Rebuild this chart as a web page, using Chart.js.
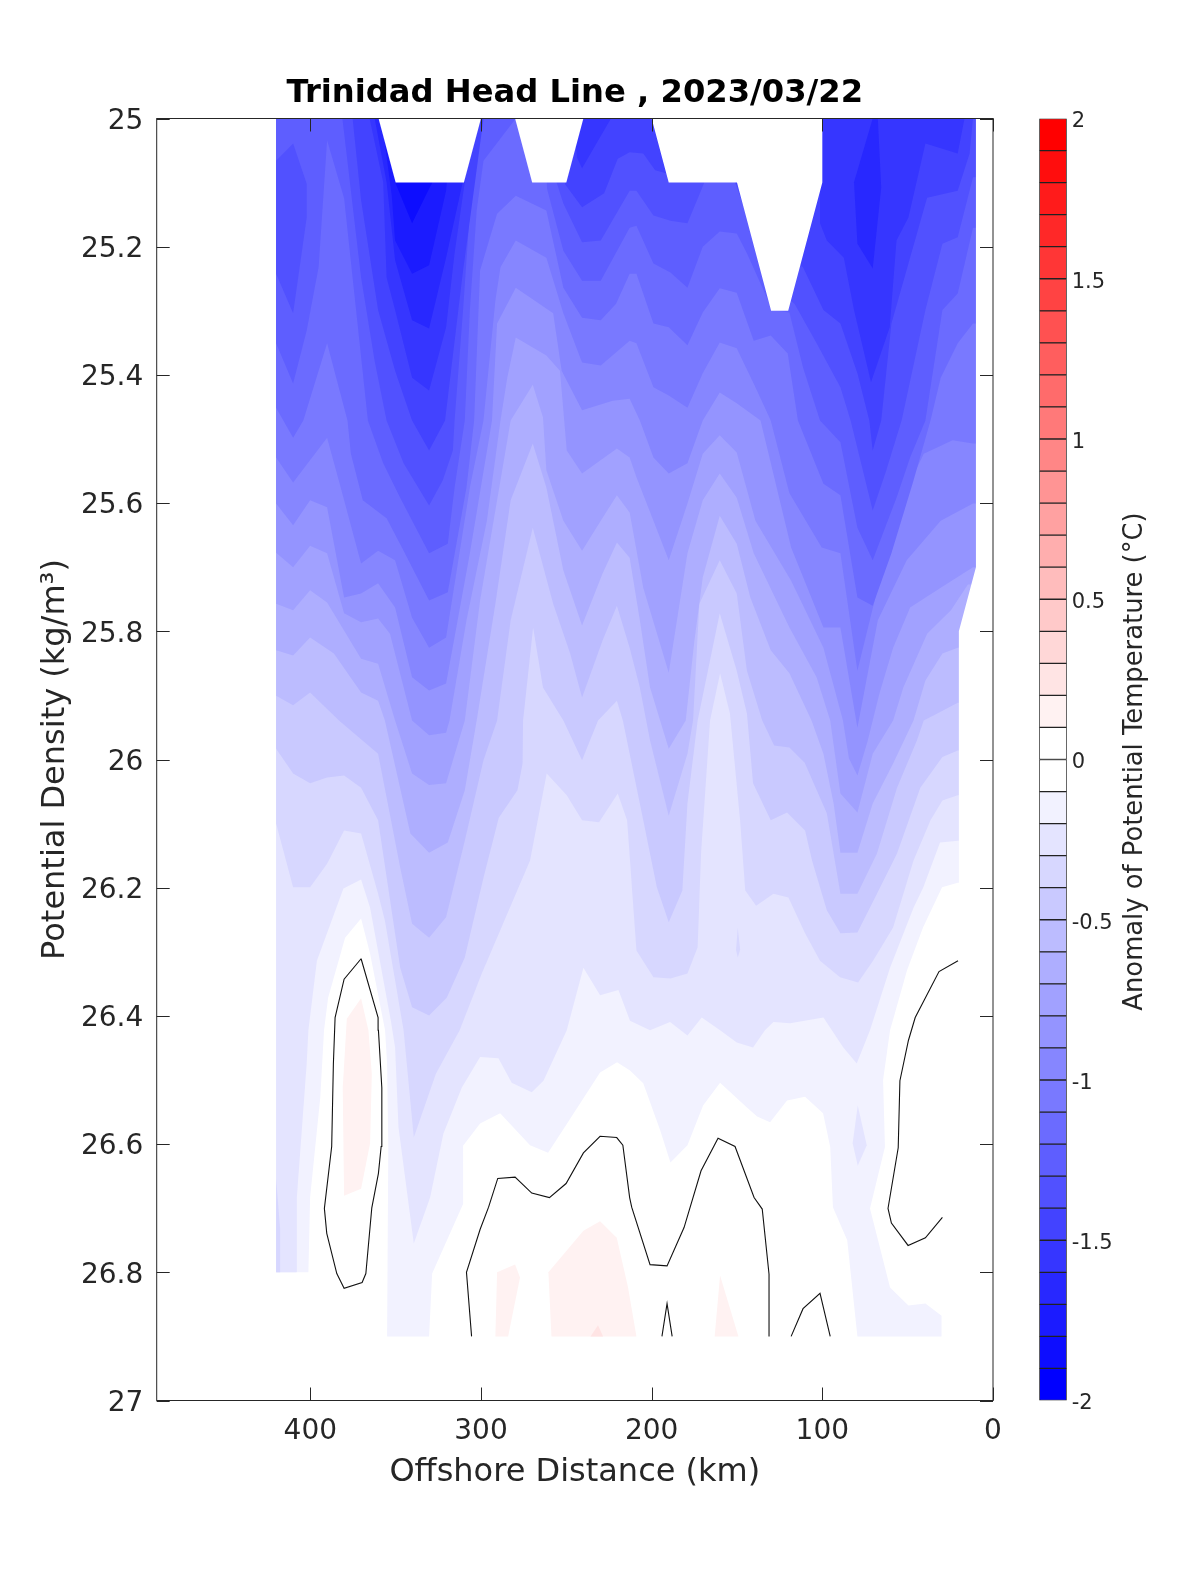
<!DOCTYPE html>
<html><head><meta charset="utf-8">
<style>html,body{margin:0;padding:0;background:#fff}#wrap{position:relative;width:1200px;height:1575px}canvas{position:absolute;left:0;top:0}</style>
<script src="https://cdn.jsdelivr.net/npm/chart.js@4/dist/chart.umd.min.js"></script>
</head><body><div id="wrap"><canvas id="main" width="1200" height="1575"></canvas><canvas id="bar" width="1200" height="1575"></canvas></div>
<script>
const titleText = 'Trinidad Head Line , 2023/03/22';
const xLabel = 'Offshore Distance (km)';
const yLabel = 'Potential Density (kg/m³)';
const barLabel = 'Anomaly of Potential Temperature (°C)';
const xTicks = [0,100,200,300,400];
const yTickStep = 0.2;
const barTickLevels = [-2,-1.5,-1,-0.5,0,0.5,1,1.5,2];

// contour curves, [offshore km, potential density]; each is the lower edge of a colder band
const c0 = [[420,26.8],[401,26.8],[400,26.69],[394,26.533],[391.8,26.428],[389.4,26.377],[379.4,26.283],[370,26.253],[364.7,26.308],[355.9,26.428],[354.7,26.48],[354,26.611],[354.7,26.9],[330,26.9],[328.2,26.809],[310,26.7],[310,26.609],[300,26.574],[288.2,26.558],[270.6,26.608],[260,26.62],[248.8,26.574],[229.4,26.494],[219.4,26.478],[211.8,26.491],[204,26.511],[194,26.585],[188,26.635],[178,26.608],[168.8,26.546],[158.8,26.51],[143,26.549],[137,26.563],[129.4,26.572],[119.4,26.538],[108.8,26.532],[98.2,26.558],[94,26.611],[92.4,26.705],[84,26.757],[78,26.9],[28.5,26.9],[28.5,26.875],[38,26.856],[48,26.859],[58.8,26.831],[70.6,26.707],[61.8,26.611],[62.9,26.506],[58.8,26.428],[48.8,26.334],[39.4,26.267],[28.2,26.204],[19,26.197],[10,26.197]];
const c1 = [[420,26.8],[407.8,26.8],[407.8,26.69],[402,26.48],[401,26.428],[396,26.319],[380.4,26.206],[370,26.192],[364.7,26.236],[352.5,26.413],[350,26.455],[348,26.58],[339,26.762],[329.4,26.69],[321.6,26.59],[310.8,26.518],[300,26.47],[289.2,26.472],[281.4,26.51],[269.6,26.525],[262.7,26.507],[249,26.428],[239.2,26.33],[229.4,26.373],[218.6,26.365],[211.8,26.413],[200,26.428],[188.2,26.415],[178,26.436],[169.6,26.408],[158.8,26.428],[149,26.447],[139.4,26.455],[132.4,26.428],[127.4,26.415],[117.6,26.417],[98,26.408],[86.3,26.455],[78.4,26.48],[70.6,26.428],[58.8,26.33],[45,26.236],[39.2,26.204],[29.4,26.134],[18.8,26.131],[10,26.131]];
const c2 = [[420,26.104],[410,26.204],[400,26.204],[390,26.167],[380,26.115],[370,26.12],[360,26.214],[356,26.256],[345,26.428],[339,26.596],[326,26.496],[312,26.428],[299,26.339],[270.6,26.162],[260.8,26.026],[249,26.06],[240,26.099],[230,26.102],[219,26.057],[213.5,26.099],[208,26.303],[198,26.345],[188,26.347],[178,26.339],[172,26.298],[170,26.151],[164.7,25.943],[158.8,25.869],[153,25.932],[147,26.1],[144,26.209],[137.6,26.233],[127.4,26.214],[118.6,26.22],[108.8,26.276],[100,26.319],[88.2,26.345],[77.6,26.353],[68.8,26.319],[57,26.267],[45,26.162],[35,26.099],[28,26.068],[19,26.06],[10,26.06]];
const c3 = [[420,25.987],[410,26.026],[400,26.041],[390,26.032],[380,26.029],[370,26.048],[360,26.099],[347,26.33],[340,26.392],[330,26.405],[319.6,26.377],[309,26.314],[298,26.189],[289,26.095],[278,26.052],[275,26.01],[274.7,25.943],[268.8,25.797],[263,25.891],[251,25.943],[240,26.005],[230.6,25.943],[219.5,25.912],[216,25.943],[212,25.995],[204,26.099],[196,26.204],[189,26.259],[181,26.209],[178,26.073],[172,25.943],[159,25.775],[149,25.865],[143,25.932],[139.4,26.041],[129,26.099],[119.4,26.087],[108.8,26.115],[104.7,26.162],[96,26.24],[88,26.276],[78,26.275],[66.5,26.214],[54.7,26.151],[41,26.048],[28,26.0],[19,25.99],[10,25.99]];
const c4 = [[420,25.904],[410,25.919],[400,25.899],[383,25.943],[360,25.995],[347,26.173],[340,26.261],[330,26.283],[320,26.251],[309,26.131],[298,26.005],[290,25.943],[282,25.786],[269,25.641],[257,25.76],[247,25.838],[240,25.907],[228,25.818],[219.5,25.763],[212,25.829],[206,25.891],[200,25.974],[189,26.092],[178,25.995],[174.7,25.943],[171,25.76],[159,25.692],[149,25.744],[143,25.865],[134,25.943],[127,25.982],[118,25.985],[109,26.009],[96,26.088],[88,26.214],[78,26.214],[66.5,26.151],[54.7,26.048],[43,25.974],[39,25.943],[31,25.932],[19,25.915],[10,25.915]];
const c5 = [[420,25.833],[410,25.841],[400,25.813],[386,25.838],[370,25.899],[360,25.912],[356,25.943],[341,26.12],[330,26.15],[319,26.134],[309,26.052],[302,25.943],[291,25.76],[282,25.598],[269,25.509],[261,25.578],[251,25.708],[240,25.794],[228,25.713],[219.5,25.664],[212,25.688],[206,25.786],[200,25.891],[189,25.987],[179,25.943],[174,25.82],[169,25.719],[159,25.622],[149,25.666],[141,25.75],[129,25.833],[118,25.869],[105,25.943],[98,25.995],[92,26.073],[88,26.15],[78,26.15],[69,26.073],[57,26.01],[45,25.943],[38,25.88],[28,25.838],[19,25.829],[10,25.829]];
const c6 = [[420,25.76],[410,25.77],[400,25.739],[390,25.758],[370,25.846],[360,25.854],[350,25.943],[340,26.026],[330,26.044],[320,26.041],[309,25.943],[300,25.755],[290,25.598],[282,25.473],[269,25.417],[263,25.468],[261,25.551],[251,25.63],[240,25.677],[229,25.63],[219.5,25.59],[212,25.617],[204,25.735],[189,25.868],[178,25.681],[169,25.598],[159,25.556],[149,25.594],[139,25.681],[118,25.797],[102,25.875],[94,25.943],[88,26.057],[78,26.087],[69,25.995],[57,25.943],[51,25.891],[37,25.807],[23,25.77],[13,25.73],[10,25.73]];
const c7 = [[420,25.68],[410,25.703],[400,25.669],[390,25.681],[380,25.775],[370,25.789],[360,25.783],[353,25.807],[340,25.943],[330,25.966],[320,25.962],[318,25.943],[308,25.786],[296,25.63],[288,25.473],[284,25.406],[279,25.343],[261,25.371],[253,25.395],[249,25.52],[240,25.556],[219.5,25.517],[212,25.531],[208,25.562],[198,25.63],[189,25.692],[178,25.603],[169,25.525],[159,25.496],[149,25.523],[138,25.63],[117,25.724],[98,25.829],[86.5,25.943],[83,26.002],[78,26.029],[72,25.975],[65,25.9],[57,25.829],[47,25.766],[29,25.735],[10,25.703]];
const c8 = [[420,25.603],[410,25.637],[400,25.598],[390,25.609],[380,25.75],[370,25.744],[360,25.728],[350,25.766],[340,25.875],[330,25.896],[320,25.885],[306,25.681],[293,25.473],[290,25.321],[279,25.265],[257,25.305],[252,25.395],[240,25.457],[222,25.442],[212,25.439],[206,25.473],[198,25.531],[189,25.556],[178,25.54],[169,25.473],[159,25.429],[149,25.446],[135,25.473],[117,25.672],[98,25.797],[88,25.797],[78,25.954],[66,25.786],[49,25.692],[29,25.63],[10,25.603]];
const c9 = [[420,25.531],[410,25.57],[390,25.5],[382,25.578],[370,25.697],[360,25.677],[350,25.692],[340,25.782],[330,25.829],[320,25.813],[306,25.578],[298,25.473],[291,25.285],[288,25.233],[279,25.191],[261,25.218],[251,25.305],[240,25.382],[229,25.387],[212,25.348],[208,25.352],[198,25.421],[189,25.434],[178,25.453],[169,25.399],[159,25.351],[149,25.36],[138,25.421],[129,25.473],[118,25.587],[99,25.672],[88,25.681],[78,25.865],[66,25.735],[53,25.603],[39,25.525],[22,25.504],[10,25.509]];
const c10 = [[420,25.453],[410,25.5],[404,25.473],[390,25.352],[378,25.473],[376,25.525],[369,25.598],[355,25.626],[345,25.677],[330,25.755],[319,25.742],[308,25.578],[303.5,25.473],[300,25.238],[290,25.149],[279,25.121],[261,25.144],[251,25.265],[240,25.312],[229,25.316],[220,25.29],[212,25.243],[208,25.243],[198,25.321],[189,25.327],[178,25.355],[169,25.304],[159,25.266],[149,25.273],[139,25.348],[129,25.34],[119,25.368],[113,25.473],[98,25.572],[88,25.59],[78,25.75],[69,25.763],[58,25.681],[45,25.567],[35,25.473],[29,25.406],[19,25.352],[10,25.321]];
const c11 = [[420,25.352],[410,25.415],[402,25.332],[395,25.233],[390,25.034],[380,25.125],[366,25.473],[357,25.54],[347,25.594],[330,25.681],[319,25.666],[315,25.578],[309,25.473],[306,25.3],[302,25.144],[298,25.066],[279,25],[262,25],[260.6,25.11],[251,25.207],[240,25.254],[229,25.254],[212,25.171],[208,25.168],[198,25.227],[188,25.241],[178,25.265],[169,25.201],[159,25.177],[149,25.18],[143,25.211],[128,25.3],[118,25.304],[110,25.39],[100,25.473],[88,25.507],[78,25.641],[69,25.692],[55,25.594],[47,25.531],[38,25.473],[28,25.3],[19,25.274],[10,25.171]];
const c12 = [[381,25],[370,25.249],[362,25.38],[355,25.473],[345,25.54],[330,25.606],[322,25.567],[316,25.52],[315,25.473],[310,25.3],[306,25.144],[301,25],[258,25],[255,25.1],[251,25.133],[240,25.194],[229,25.191],[212,25.113],[208,25.113],[198,25.152],[188,25.16],[178,25.164],[168,25.1],[150,25.1],[130,25.25],[120,25.28],[115,25.29],[102,25.352],[88,25.421],[82,25.473],[69,25.614],[61,25.551],[52,25.473],[38,25.3],[28,25.196],[19,25.186],[10,25.092]];
const c13 = [[375,25],[370,25.128],[360,25.3],[350,25.395],[340,25.473],[330,25.52],[320.6,25.473],[310,25.238],[303,25.1],[298,25],[252,25],[250,25.103],[240,25.139],[227,25.117],[219,25.063],[212,25.053],[204,25.055],[197,25.081],[190,25.086],[150,25.1],[125,25.2],[110,25.233],[98,25.3],[88,25.321],[78,25.399],[71,25.473],[69,25.52],[64,25.473],[58,25.321],[37,25.124],[19,25.113],[12,25.055],[10,25]];
const c14 = [[365,25],[357,25.1],[355,25.249],[350,25.3],[340,25.406],[330,25.426],[320,25.327],[315,25.211],[309,25.1],[303,25],[245,25],[243,25.061],[240,25.078],[223,25],[110,25],[100,25.105],[100,25.164],[96,25.191],[86,25.218],[80,25.3],[70,25.413],[59,25.327],[55,25.191],[48,25.155],[38,25.039],[19,25.055],[15,25],[10,25]];
const c15 = [[362,25],[355,25.1],[350,25.222],[340,25.316],[330,25.329],[320,25.218],[310,25.097],[305,25]];
const c16 = [[358,25],[352,25.12],[350,25.191],[340,25.243],[330,25.23],[320,25.113],[316,25]];
const c17 = [[352,25],[350,25.1],[340,25.164],[330,25.11],[328,25.1],[326,25]];
const contourCurves = [c0,c1,c2,c3,c4,c5,c6,c7,c8,c9,c10,c11,c12,c13,c14,c15,c16,c17];

// closed patches: colour band index (minus = warm side) and outline
const patchLobe13 = [[420,25.066],[410,25.039],[402,25.102],[402,25.155],[410,25.305],[420,25.243]];
const patchLobe16 = [[69,25],[80,25.1],[78,25.196],[69,25.235],[64,25.108],[66,25]];
const patchSliver3 = [[420,26.66],[417.6,26.74],[417.6,26.8],[420,26.8]];
const patchSpeck3 = [[148.4,26.268],[147,26.302],[148.4,26.314],[149.4,26.302]];
const patchSpeck2 = [[77.8,26.546],[72.5,26.608],[77.8,26.64],[80.8,26.605]];
const patchPink1 = [[370,26.378],[378.4,26.41],[380.8,26.518],[380,26.687],[370,26.676],[364.7,26.605],[363.7,26.496],[365.7,26.428]];
const patchPink2 = [[290,26.807],[279.4,26.795],[276.5,26.815],[283.5,26.9],[291,26.9]];
const patchPink3 = [[259.8,26.807],[239.2,26.742],[229.4,26.727],[219.6,26.753],[213,26.83],[208,26.9],[258,26.9]];
const patchPink4 = [[158.8,26.812],[148,26.9],[162,26.9]];
const patchRose = [[235,26.9],[230.6,26.89],[227.6,26.9]];
const patches = [[13,patchLobe13],[16,patchLobe16],[3,patchSliver3],[3,patchSpeck3],[2,patchSpeck2],[-1,patchPink1],[-1,patchPink2],[-1,patchPink3],[-1,patchPink4],[-2,patchRose]];

// no-data areas
const gapA = [[360,25],[350,25.1],[310,25.1],[300,25]];
const gapB = [[280,25],[270,25.1],[250,25.1],[240,25]];
const gapC = [[200,25],[190,25.1],[150,25.1],[130,25.3],[120,25.3],[100,25.1],[100,25]];
const gapShore = [[10,25],[10,25.7],[20,25.8],[20,27],[0,27],[0,25]];
const gaps = [gapA,gapB,gapC,gapShore];

// zero-anomaly line pieces
const zeroLoop = [[370,26.316],[380,26.348],[385.3,26.408],[386.3,26.48],[387.3,26.61],[391.6,26.707],[390.2,26.746],[384.3,26.809],[380,26.832],[369.4,26.823],[367.2,26.809],[363.7,26.706],[359.8,26.652],[358.2,26.61],[357.8,26.518],[359.8,26.428],[360,26.408],[370,26.316]];
const zeroWave = [[305,26.9],[308,26.8],[300,26.74],[295,26.705],[289.6,26.66],[279.4,26.658],[269.6,26.683],[259.2,26.69],[249.4,26.668],[239.2,26.62],[229.4,26.594],[219.6,26.596],[216,26.608],[212,26.69],[210.8,26.705],[200,26.795],[190,26.797],[180,26.737],[170,26.648],[160,26.597],[150,26.61],[138.8,26.69],[134,26.708],[130,26.81],[130,26.9]];
const zeroSpike = [[193,26.9],[190,26.856],[187,26.9]];
const zeroBump = [[117,26.9],[110,26.864],[100,26.84],[94,26.9]];
const zeroCoast = [[18.8,26.319],[30,26.336],[44,26.408],[48,26.444],[53,26.507],[54,26.612],[60,26.707],[58,26.73],[48.2,26.765],[38,26.753],[28,26.721]];
const zeroLines = [zeroLoop,zeroWave,zeroSpike,zeroBump,zeroCoast];

const barEdges = []; for (let i=0;i<=40;i++) barEdges.push(Math.round((i/10-2)*10)/10);

function bandColor(k){ // k>0 cold, k<0 warm
  const v = Math.round(255*(1-Math.abs(k)/19));
  return k>=0 ? `rgb(${v},${v},255)` : `rgb(255,${v},${v})`;
}
// the readings above were taken against a ruler about 0.4% off; grid-exact depths stay as read
const trueKm = km => km*0.9959+1.76;
const trueDensity = d => (d===26.9||d===26.8) ? d : 25+(d-25)*0.9961;
const rawPts = a => a.map(p=>({x:p[0],y:p[1]}));
const toPts = a => a.map(p=>({x:trueKm(p[0]),y:trueDensity(p[1])}));
const fillSet = (data,color) => ({data,showLine:false,pointRadius:0,contourFill:color});
const topDensity = 25, wallKm = 10;
const ink = '#262626';
const noOverflow = s => {s.paddingLeft=s.paddingRight=s.paddingTop=s.paddingBottom=0;};

const datasets = [];
contourCurves.forEach((c,i)=>{
  const pts = toPts(c);
  const last = pts[pts.length-1];
  if (c[c.length-1][0]===wallKm) pts.push({x:wallKm-2,y:last.y});
  pts.push({x:pts[pts.length-1].x,y:topDensity},{x:pts[0].x,y:topDensity});
  datasets.push(fillSet(pts,bandColor(i+1)));
});
patches.forEach(p=>datasets.push(fillSet(toPts(p[1]),bandColor(p[0]))));
gaps.forEach(g=>datasets.push(fillSet(rawPts(g),'#ffffff')));
zeroLines.forEach(l=>datasets.push({data:toPts(l),showLine:true,borderColor:'#111',borderWidth:1.1,pointRadius:0,tension:0,fill:false}));

const contourPlugin = {
  id:'contourPlugin',
  beforeDatasetsDraw(chart){
    const {ctx,chartArea:a} = chart;
    ctx.save();
    ctx.beginPath();ctx.rect(a.left,a.top,a.right-a.left,a.bottom-a.top);ctx.clip();
    chart.data.datasets.forEach((d,i)=>{
      if(!d.contourFill) return;
      const pts = chart.getDatasetMeta(i).data;
      ctx.beginPath();
      pts.forEach((p,j)=> j?ctx.lineTo(p.x,p.y):ctx.moveTo(p.x,p.y));
      ctx.closePath();
      ctx.fillStyle = d.contourFill;
      ctx.fill();
    });
    ctx.restore();
  },
  afterDatasetsDraw(chart){
    const {ctx,chartArea:a,scales:{x,y}} = chart;
    const len = 13;
    ctx.save();
    ctx.strokeStyle = ink; ctx.lineWidth = 1;
    ctx.beginPath();
    x.ticks.forEach(t=>{const px=Math.round(x.getPixelForValue(t.value))+.5;
      ctx.moveTo(px,a.top);ctx.lineTo(px,a.top+len);ctx.moveTo(px,a.bottom);ctx.lineTo(px,a.bottom-len);});
    y.ticks.forEach(t=>{const py=Math.round(y.getPixelForValue(t.value))+.5;
      ctx.moveTo(a.left,py);ctx.lineTo(a.left+len,py);ctx.moveTo(a.right,py);ctx.lineTo(a.right-len,py);});
    ctx.stroke();
    ctx.strokeRect(a.left,a.top,a.right-a.left,a.bottom-a.top);
    ctx.restore();
  }
};

new Chart(document.getElementById('main'),{
  type:'scatter',
  data:{datasets},
  options:{
    responsive:false,animation:false,devicePixelRatio:1,
    layout:{padding:{top:68.5,right:207,bottom:0,left:0}},
    plugins:{legend:{display:false},tooltip:{enabled:false},
      title:{display:true,text:titleText,fullSize:false,align:'center',color:'#000',
        font:{family:'DejaVu Sans',size:32.2,weight:'bold',lineHeight:1},padding:{top:8.8,bottom:9}}},
    scales:{
      x:{type:'linear',reverse:true,min:0,max:490,
        grid:{display:false,drawTicks:false},border:{display:false},
        afterBuildTicks(s){s.ticks=xTicks.map(value=>({value}));},
        afterFit(s){s.height=174.5;noOverflow(s);},
        ticks:{maxRotation:0,color:ink,padding:14.5,font:{family:'DejaVu Sans',size:28}},
        title:{display:true,text:xLabel,color:ink,font:{family:'DejaVu Sans',size:32},padding:{top:0,bottom:83}}},
      y:{type:'linear',reverse:true,min:25,max:27,
        grid:{display:false,drawTicks:false},border:{display:false},
        afterFit(s){s.width=156.7;noOverflow(s);},
        ticks:{stepSize:yTickStep,color:ink,padding:13.4,labelOffset:3,font:{family:'DejaVu Sans',size:28},callback:v=>String(Math.round(v*10)/10)},
        title:{display:true,text:yLabel,color:ink,font:{family:'DejaVu Sans',size:32},padding:{top:36.5,bottom:0}}}
    }
  },
  plugins:[contourPlugin]
});

const barSets = [];
for(let i=0;i<40;i++){
  const lo=barEdges[i],hi=barEdges[i+1],mid=(lo+hi)/2;
  const k=Math.round(Math.abs(mid)*10-0.5);
  barSets.push({data:[[lo,hi]],backgroundColor:bandColor(mid<0?k:-k),borderColor:'#222',borderWidth:1,borderSkipped:false,grouped:false,barPercentage:1,categoryPercentage:1});
}
const barTitlePlugin = {
  id:'barTitle',
  afterDraw(chart){
    const {ctx} = chart;
    ctx.save();
    ctx.translate(1135.5,761.5);ctx.rotate(-Math.PI/2);
    ctx.font='25.8px "DejaVu Sans"';ctx.fillStyle=ink;ctx.textAlign='center';ctx.textBaseline='middle';
    ctx.fillText(barLabel,0,0);
    ctx.restore();
  }
};
new Chart(document.getElementById('bar'),{
  type:'bar',
  data:{labels:[''],datasets:barSets},
  options:{
    responsive:false,animation:false,devicePixelRatio:1,
    layout:{padding:{top:118.5,right:0,bottom:174.5,left:1039.3}},
    plugins:{legend:{display:false},tooltip:{enabled:false}},
    scales:{
      x:{display:false},
      y:{type:'linear',position:'right',min:-2,max:2,
        grid:{display:false,drawTicks:false},border:{display:false},
        afterFit(s){s.width=133.3;noOverflow(s);},
        ticks:{stepSize:0.5,color:ink,padding:5,labelOffset:3.5,font:{family:'DejaVu Sans',size:21},crossAlign:'near',
          callback:v=>barTickLevels.includes(v)?String(v):''}}
    }
  },
  plugins:[barTitlePlugin]
});
</script></body></html>
